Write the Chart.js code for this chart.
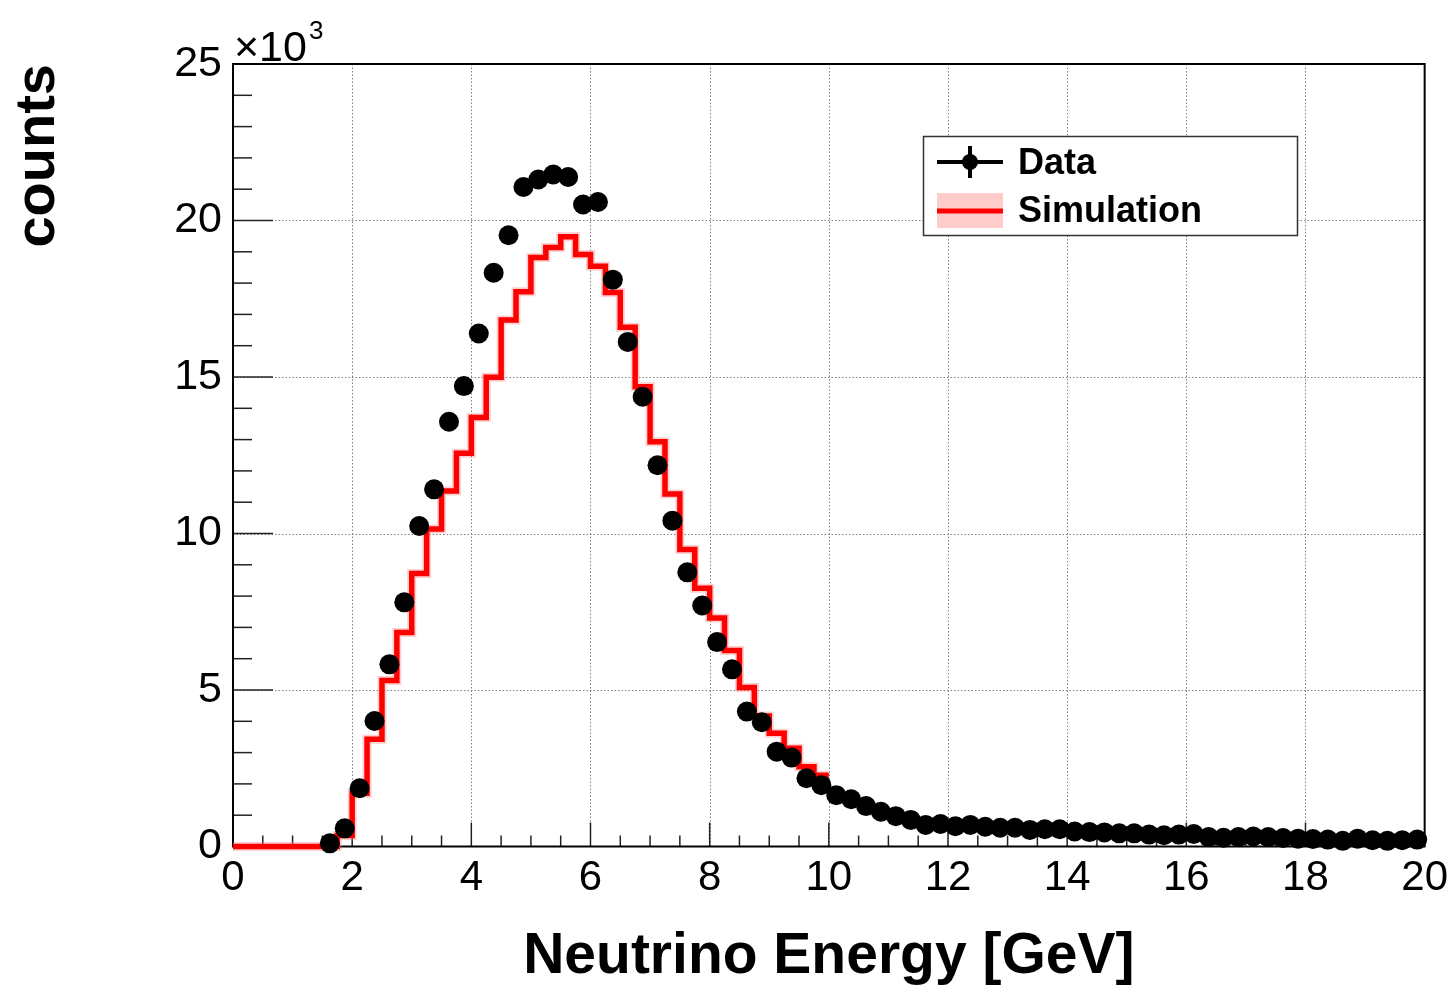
<!DOCTYPE html>
<html>
<head>
<meta charset="utf-8">
<title>Neutrino Energy</title>
<script src="https://cdn.jsdelivr.net/npm/chart.js@4.4.0/dist/chart.umd.min.js"></script>
<style>
  html, body { margin: 0; padding: 0; background: #fff; }
</style>
</head>
<body>
<canvas id="energyChart" width="1455" height="986"></canvas>
<script>
// histogram binning (GeV)
const binWidth = 0.25;
const dataFirstCenter = 1.625;
const simFirstEdge = 0;

// data points, counts in units of 10^3
const dataCounts = [
  0.10, 0.58, 1.86, 4.01, 5.82, 7.80, 10.24, 11.41, 13.57, 14.71,
  16.39, 18.33, 19.53, 21.07, 21.31, 21.47, 21.39, 20.51, 20.59, 18.11,
  16.12, 14.37, 12.18, 10.41, 8.76, 7.70, 6.53, 5.66, 4.31, 3.97,
  3.03, 2.84, 2.18, 1.96, 1.64, 1.51, 1.29, 1.11, 0.97, 0.85,
  0.69, 0.72, 0.65, 0.69, 0.63, 0.60, 0.60, 0.53, 0.55, 0.55,
  0.48, 0.46, 0.45, 0.42, 0.42, 0.38, 0.36, 0.38, 0.40, 0.30,
  0.28, 0.30, 0.32, 0.30, 0.27, 0.25, 0.24, 0.22, 0.18, 0.25,
  0.20, 0.18, 0.20, 0.22
];

// simulation histogram, one value per bin from 0 to 10 GeV (10^3)
const simCounts = [
  0, 0, 0, 0, 0, 0, 0, 0.35, 1.70, 3.43,
  5.30, 6.84, 8.72, 10.14, 11.36, 12.56, 13.71, 14.99, 16.82, 17.72,
  18.82, 19.14, 19.48, 18.91, 18.54, 17.70, 16.59, 14.69, 12.93, 11.26,
  9.49, 8.25, 7.30, 6.26, 5.08, 4.17, 3.62, 3.14, 2.55, 2.28
];

const xRange = [0, 20];
const yRange = [0, 25];
const legendLabels = ['Data', 'Simulation'];
const FONT = "'Liberation Sans', Arial, Helvetica, sans-serif";

const dataPoints = dataCounts.map((v, i) => ({ x: dataFirstCenter + i * binWidth, y: v }));
const simPoints = simCounts.map((v, i) => ({ x: simFirstEdge + i * binWidth, y: v }));
simPoints.push({ x: simFirstEdge + simCounts.length * binWidth, y: simCounts[simCounts.length - 1] });

function strokeLine(ctx, x1, y1, x2, y2) {
  ctx.beginPath();
  ctx.moveTo(x1, y1);
  ctx.lineTo(x2, y2);
  ctx.stroke();
}

// ROOT style frame, inner ticks and dotted grid
const rootFrame = {
  id: 'rootFrame',
  beforeDatasetsDraw(chart) {
    const { ctx, chartArea: a, scales: { x, y } } = chart;
    ctx.save();
    // grid
    ctx.strokeStyle = '#808080';
    ctx.lineWidth = 1;
    ctx.setLineDash([1.5, 2]);
    for (let v = 2; v < 20; v += 2) {
      const px = Math.round(x.getPixelForValue(v)) + 0.5;
      strokeLine(ctx, px, a.top, px, a.bottom);
    }
    for (let v = 5; v < 25; v += 5) {
      const py = Math.round(y.getPixelForValue(v)) + 0.5;
      strokeLine(ctx, a.left, py, a.right, py);
    }
    ctx.setLineDash([]);
    // ticks
    ctx.strokeStyle = '#222';
    ctx.lineWidth = 1.5;
    for (let v = 0.5; v < 20; v += 0.5) {
      const px = x.getPixelForValue(v);
      const len = (v % 2 === 0) ? 24 : 11;
      strokeLine(ctx, px, a.bottom, px, a.bottom - len);
    }
    for (let v = 1; v < 25; v += 1) {
      const py = y.getPixelForValue(v);
      const len = (v % 5 === 0) ? 40 : 19;
      strokeLine(ctx, a.left, py, a.left + len, py);
    }
    // frame
    ctx.strokeStyle = '#000';
    ctx.lineWidth = 2;
    ctx.strokeRect(a.left, a.top, a.right - a.left, a.bottom - a.top);
    // x10^3 multiplier
    ctx.fillStyle = '#000';
    ctx.font = '43px ' + FONT;
    ctx.textBaseline = 'alphabetic';
    ctx.textAlign = 'left';
    const base = '\u00d710';
    ctx.fillText(base, a.left + 1, 61);
    const w = ctx.measureText(base).width;
    ctx.font = '26px ' + FONT;
    ctx.fillText('3', a.left + w + 3, 39);
    ctx.restore();
  },
  afterDatasetsDraw(chart) {
    const { ctx } = chart;
    ctx.save();
    // legend box
    ctx.fillStyle = '#fff';
    ctx.fillRect(923, 136, 375, 100);
    ctx.strokeStyle = '#333';
    ctx.lineWidth = 1.5;
    ctx.strokeRect(923.5, 136.5, 374, 99);
    // Data marker
    ctx.strokeStyle = '#000';
    ctx.lineWidth = 4;
    strokeLine(ctx, 937, 162, 1003, 162);
    strokeLine(ctx, 970, 146, 970, 178);
    ctx.fillStyle = '#000';
    ctx.beginPath();
    ctx.arc(970, 162, 8, 0, Math.PI * 2);
    ctx.fill();
    // Simulation marker
    ctx.fillStyle = '#ffcccc';
    ctx.fillRect(937, 193, 66, 35);
    ctx.strokeStyle = '#ff0000';
    ctx.lineWidth = 5;
    strokeLine(ctx, 937, 211, 1003, 211);
    // labels
    ctx.fillStyle = '#000';
    ctx.font = 'bold 36px ' + FONT;
    ctx.textBaseline = 'middle';
    ctx.textAlign = 'left';
    ctx.fillText(legendLabels[0], 1018, 164);
    ctx.fillText(legendLabels[1], 1018, 212);
    ctx.restore();
  }
};

const ctx = document.getElementById('energyChart').getContext('2d');
const chart = new Chart(ctx, {
  type: 'line',
  data: {
    datasets: [
      {
        label: legendLabels[0],
        data: dataPoints,
        showLine: false,
        pointRadius: 10,
        pointHoverRadius: 10,
        pointBackgroundColor: '#000',
        pointBorderColor: '#000',
        pointBorderWidth: 0,
        clip: false
      },
      {
        label: legendLabels[1],
        data: simPoints,
        stepped: true,
        borderColor: '#ff0000',
        borderWidth: 5.5,
        pointRadius: 0,
        fill: false,
        clip: false
      },
      {
        label: 'band',
        data: simPoints,
        stepped: true,
        borderColor: 'rgba(255, 120, 120, 0.35)',
        borderWidth: 9,
        pointRadius: 0,
        fill: false,
        clip: false
      }
    ]
  },
  options: {
    responsive: false,
    animation: false,
    devicePixelRatio: 1,
    layout: { padding: { left: 0, top: 64, right: 30, bottom: 0 } },
    plugins: {
      legend: { display: false },
      tooltip: { enabled: false }
    },
    scales: {
      x: {
        type: 'linear',
        min: xRange[0],
        max: xRange[1],
        grid: { display: false, drawTicks: false },
        border: { display: false },
        ticks: {
          stepSize: 2,
          autoSkip: false,
          maxRotation: 0,
          padding: 7,
          color: '#000',
          font: { family: FONT, size: 42 }
        },
        title: {
          display: true,
          text: 'Neutrino Energy [GeV]',
          color: '#000',
          font: { family: FONT, size: 57, weight: 'bold', lineHeight: 1 },
          padding: { top: 0, bottom: 0 }
        },
        afterFit(scale) { scale.height = 139.5; }
      },
      y: {
        type: 'linear',
        min: yRange[0],
        max: yRange[1],
        grid: { display: false, drawTicks: false },
        border: { display: false },
        ticks: {
          stepSize: 5,
          autoSkip: false,
          padding: 11,
          color: '#000',
          font: { family: FONT, size: 43 }
        },
        title: {
          display: true,
          text: 'counts',
          align: 'end',
          color: '#000',
          font: { family: FONT, size: 56, weight: 'bold', lineHeight: 1 },
          padding: { top: 11, bottom: 0 }
        },
        afterFit(scale) { scale.width = 233; }
      }
    }
  },
  plugins: [rootFrame]
});
</script>
</body>
</html>
